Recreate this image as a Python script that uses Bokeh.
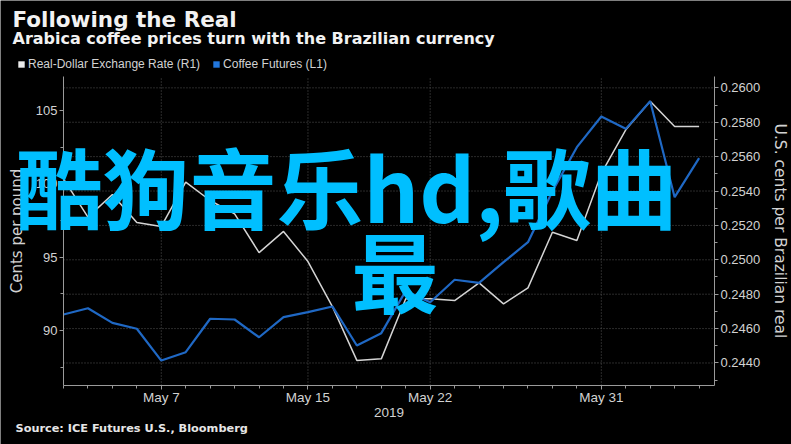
from bokeh.plotting import figure
from bokeh.models import (Range1d, LinearAxis, FixedTicker, Label, Legend, LegendItem,
                          PrintfTickFormatter)
from bokeh.embed import file_html
from bokeh.resources import INLINE

# ---- data (weekday series, May 1 - Jun 6 2019) ----
dates = ["May 1", "May 2", "May 3", "May 6", "May 7", "May 8", "May 9", "May 10",
         "May 13", "May 14", "May 15", "May 16", "May 17", "May 20", "May 21",
         "May 22", "May 23", "May 24", "May 27", "May 28", "May 29", "May 30",
         "May 31", "Jun 3", "Jun 4", "Jun 5", "Jun 6"]
coffee = [91.09, 91.52, 90.52, 90.12, 87.95, 88.52, 90.80, 90.75, 89.54, 90.91,
          91.25, 91.64, 88.98, 89.82, 92.70, 91.93, 93.46, 93.25, 94.66, 96.02,
          99.50, 102.50, 104.59, 103.75, 105.63, 99.09, 101.75]
real = [0.25471, 0.25248, 0.25380, 0.25217, 0.25194, 0.25452, 0.25345, 0.25267,
        0.25042, 0.25165, 0.24990, 0.24728, 0.24415, 0.24424, 0.24773, 0.24773,
        0.24763, 0.24866, 0.24744, 0.24837, 0.25160, 0.25112, 0.25502, 0.25756,
        0.25922, 0.25775, 0.25775]
tick_dates = ["May 7", "May 15", "May 22", "May 31"]
left_ticks = [90, 95, 100, 105]
right_ticks = [0.244, 0.246, 0.248, 0.250, 0.252, 0.254, 0.256, 0.258, 0.260]

# axis extents (data units) of the plotting area
X_LO, X_HI = 0.0, 26.63
Y_LO, Y_HI = 86.25, 107.32
R_LO, R_HI = 0.24269, 0.26066

# ---- layout (pixels) ----
W, H = 791, 444
PL, PR, PT, PB = 63, 714, 76, 385   # plotting area box inside the canvas


def full_range(lo, hi, px_lo_margin, px_hi_margin, px_span):
    k = (hi - lo) / px_span
    return Range1d(lo - px_lo_margin * k, hi + px_hi_margin * k)


x = list(range(len(dates)))
tick_pos = [dates.index(d) for d in tick_dates]

BG = "#000000"
AXIS = "#9a9a9a"
TXT = "#d2d2d2"
GRID = "#555555"
SANS = "Liberation Sans"
WIDE = "DejaVu Sans"

p = figure(width=W, height=H, output_backend="svg", toolbar_location=None,
           x_axis_location=None, y_axis_location=None,
           x_range=full_range(X_LO, X_HI, PL, W - PR, PR - PL),
           y_range=full_range(Y_LO, Y_HI, H - PB, PT, PB - PT),
           min_border=0, background_fill_color=BG,
           border_fill_color=BG, outline_line_color=None)
p.extra_y_ranges = {"real": full_range(R_LO, R_HI, H - PB, PT, PB - PT)}
p.xgrid.visible = False
p.ygrid.visible = False

# dotted grid (right-axis levels, labelled dates)
p.segment(x0=X_LO, x1=X_HI, y0=right_ticks, y1=right_ticks, y_range_name="real",
          line_color=GRID, line_dash="1 2", line_width=1)
p.segment(x0=tick_pos, x1=tick_pos, y0=Y_LO, y1=Y_HI,
          line_color=GRID, line_dash="1 2", line_width=1)

# lines
p.line(x, real, y_range_name="real", line_color="#d4d4d4", line_width=1.5)
p.line(x, coffee, line_color="#1f68c4", line_width=2.2)

# axes
xa = LinearAxis(fixed_location=Y_LO, bounds=(X_LO, X_HI),
                ticker=FixedTicker(ticks=tick_pos, minor_ticks=x),
                major_label_overrides={tp: lbl for tp, lbl in zip(tick_pos, tick_dates)},
                axis_label="2019")
ya = LinearAxis(fixed_location=X_LO, bounds=(Y_LO, Y_HI),
                ticker=FixedTicker(ticks=left_ticks,
                                   minor_ticks=[t - 2.5 for t in left_ticks]),
                axis_label="Cents per pound")
ra = LinearAxis(fixed_location=X_HI, bounds=(R_LO, R_HI), y_range_name="real",
                ticker=FixedTicker(ticks=right_ticks,
                                   minor_ticks=[t - 0.001 for t in right_ticks]),
                formatter=PrintfTickFormatter(format="%.4f"),
                axis_label="U.S. cents per Brazilian real")
p.add_layout(xa, "below")
p.add_layout(ya, "left")
p.add_layout(ra, "right")

for ax in [xa, ya, ra]:
    ax.axis_line_color = AXIS
    ax.major_tick_line_color = AXIS
    ax.minor_tick_line_color = AXIS
    ax.major_tick_in = 0
    ax.major_tick_out = 4
    ax.minor_tick_in = 0
    ax.minor_tick_out = 3
    ax.major_label_text_color = TXT
    ax.major_label_text_font = SANS
    ax.major_label_text_font_size = "13px"
    ax.major_label_standoff = 2
    ax.axis_label_text_color = TXT
    ax.axis_label_text_font = WIDE
    ax.axis_label_text_font_size = "15px"
    ax.axis_label_text_font_style = "normal"
xa.major_label_standoff = 0
xa.major_label_text_font_size = "13.5px"
xa.axis_label_standoff = 0
xa.axis_label_text_font = SANS
xa.axis_label_text_font_size = "13.5px"
ya.axis_label_standoff = 7
ra.axis_label_standoff = 8
ra.axis_label_text_font_size = "15.5px"

# legend (square swatches); zero-area quads only carry the swatch colours
r_w = p.quad(left=[X_LO], right=[X_LO], top=[Y_LO], bottom=[Y_LO],
             fill_color="#ececec", line_color=None)
r_b = p.quad(left=[X_LO], right=[X_LO], top=[Y_LO], bottom=[Y_LO],
             fill_color="#2277dd", line_color=None)
legend = Legend(items=[LegendItem(label="Real-Dollar Exchange Rate (R1)", renderers=[r_w]),
                       LegendItem(label="Coffee Futures (L1)", renderers=[r_b])],
                location=(17, H - 71), orientation="horizontal",
                glyph_width=8, glyph_height=8, label_standoff=3, spacing=12,
                padding=0, margin=0, label_height=14,
                label_text_font=SANS, label_text_font_size="12px",
                label_text_color=TXT, background_fill_alpha=0, border_line_alpha=0)
p.add_layout(legend)


def screen_label(text, left, bottom, font, size, color, bold=True):
    return Label(x=left, y=H - bottom, x_units="screen", y_units="screen", text=text,
                 text_font=font, text_font_size=size, text_color=color,
                 text_font_style="bold" if bold else "normal",
                 text_baseline="alphabetic", text_align="left")


p.add_layout(screen_label("Following the Real", 12, 18.5, WIDE, "21.5px", "#f2f2f2"))
p.add_layout(screen_label("Arabica coffee prices turn with the Brazilian currency",
                          12, 38, WIDE, "16px", "#f2f2f2"))
p.add_layout(screen_label("Source: ICE Futures U.S., Bloomberg", 15, 428, WIDE,
                          "11.3px", "#e6e6e6"))

# overlay watermark text
p.add_layout(screen_label("酷狗音乐hd,歌曲", 15, 184, "Noto Sans CJK SC", "87px", "#00bfff"))
p.add_layout(screen_label("最", 351, 268, "Noto Sans CJK SC", "87px", "#00bfff"))

open("out.html", "w").write(file_html(p, INLINE))
